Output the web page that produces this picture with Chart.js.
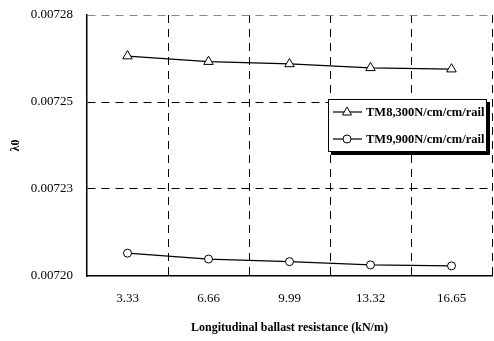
<!DOCTYPE html>
<html>
<head>
<meta charset="utf-8">
<script src="https://cdn.jsdelivr.net/npm/chart.js@4/dist/chart.umd.min.js"></script>
<style>
  html, body { margin: 0; padding: 0; background: #fff; }
  #wrap { width: 494px; height: 341px; position: relative; }
</style>
</head>
<body>
<div id="wrap"><canvas id="c" width="494" height="341"></canvas></div>
<script>
const categories = ['3.33', '6.66', '9.99', '13.32', '16.65'];
const seriesNames = ['TM8,300N/cm/cm/rail', 'TM9,900N/cm/cm/rail'];
const tm8300 = [0.0072674, 0.0072657, 0.0072650, 0.0072638, 0.0072634];
const tm9900 = [0.0072070, 0.0072052, 0.0072044, 0.0072034, 0.0072031];
const yTickValues = [0.0072, 0.0072 + 0.00008 / 3, 0.0072 + 0.00016 / 3, 0.00728];
const yTickLabels = ['0.00720', '0.00723', '0.00725', '0.00728'];
const xTitle = 'Longitudinal ballast resistance (kN/m)';
const yTitle = 'λ0';

const SERIF = '"Liberation Serif", "Times New Roman", serif';

const legendPlugin = {
  id: 'boxLegend',
  afterDraw(chart) {
    const ctx = chart.ctx;
    const ca = chart.chartArea;
    const w = 159, h = 53;
    const x = ca.right - 5 - w, y = ca.top + 84;
    ctx.save();
    ctx.fillStyle = '#000';
    ctx.fillRect(x + 3, y + 3, w, h);
    ctx.fillStyle = '#fff';
    ctx.fillRect(x, y, w, h);
    ctx.strokeStyle = '#000';
    ctx.lineWidth = 1;
    ctx.strokeRect(x + 0.5, y + 0.5, w - 1, h - 1);
    ctx.font = 'bold 12.5px ' + SERIF;
    ctx.textBaseline = 'middle';
    ctx.textAlign = 'left';
    chart.data.datasets.forEach((ds, i) => {
      const cy = y + 13 + i * 27;
      ctx.strokeStyle = '#000';
      ctx.lineWidth = 1.2;
      ctx.beginPath();
      ctx.moveTo(x + 5, cy);
      ctx.lineTo(x + 34, cy);
      ctx.stroke();
      const mx = x + 19;
      ctx.fillStyle = '#fff';
      ctx.lineWidth = 1;
      ctx.beginPath();
      if (ds.pointStyle === 'triangle') {
        ctx.moveTo(mx, cy - 5);
        ctx.lineTo(mx + 4.5, cy + 3);
        ctx.lineTo(mx - 4.5, cy + 3);
        ctx.closePath();
      } else {
        ctx.arc(mx, cy, 4, 0, Math.PI * 2);
      }
      ctx.fill();
      ctx.stroke();
      ctx.fillStyle = '#000';
      ctx.fillText(ds.label, x + 38, cy + 1);
    });
    ctx.restore();
  }
};

new Chart(document.getElementById('c'), {
  type: 'line',
  data: {
    labels: categories,
    datasets: [
      {
        label: seriesNames[0], data: tm8300,
        borderColor: '#000', borderWidth: 1.2,
        pointStyle: 'triangle', pointRadius: 5.5,
        pointBackgroundColor: '#fff', pointBorderColor: '#000', pointBorderWidth: 1,
        tension: 0
      },
      {
        label: seriesNames[1], data: tm9900,
        borderColor: '#000', borderWidth: 1.2,
        pointStyle: 'circle', pointRadius: 4,
        pointBackgroundColor: '#fff', pointBorderColor: '#000', pointBorderWidth: 1,
        tension: 0
      }
    ]
  },
  options: {
    responsive: false,
    animation: false,
    events: [],
    layout: { autoPadding: false, padding: { top: 15, right: 2, left: 0, bottom: 0 } },
    plugins: { legend: { display: false }, tooltip: { enabled: false } },
    scales: {
      x: {
        type: 'category',
        offset: true,
        grid: {
          offset: true,
          drawTicks: true,
          tickLength: 15,
          tickColor: 'rgba(0,0,0,0)',
          lineWidth: 1,
          color: (c) => c.index === 0 ? 'rgba(0,0,0,0)' : (c.index >= 5 ? '#888' : '#000')
        },
        border: { display: true, color: '#000', width: 1.5, dash: [8, 6] },
        ticks: { color: '#000', padding: 0, font: { family: SERIF, size: 13 } },
        title: {
          display: true, text: xTitle, color: '#000',
          font: { family: SERIF, size: 12, weight: 'bold' },
          padding: { top: 0, bottom: 6 }
        },
        afterFit(s) { s.height = 65; s.paddingLeft = 0; s.paddingRight = 0; }
      },
      y: {
        min: 0.0072, max: 0.00728,
        afterBuildTicks(s) { s.ticks = yTickValues.map(v => ({ value: v })); },
        grid: {
          drawTicks: true,
          tickLength: 14,
          tickColor: 'rgba(0,0,0,0)',
          lineWidth: 1,
          color: (c) => c.index === 0 ? 'rgba(0,0,0,0)' : (c.index === 3 ? '#888' : '#000')
        },
        border: { display: true, color: '#000', width: 1.5, dash: [8, 6] },
        ticks: {
          color: '#000', padding: 0, font: { family: SERIF, size: 13 },
          callback: (v, i) => yTickLabels[i]
        },
        title: {
          display: true, text: yTitle, color: '#000',
          font: { family: SERIF, size: 12, weight: 'bold' },
          padding: { top: 9, bottom: 0 }
        },
        afterFit(s) { s.width = 87; s.paddingTop = 0; s.paddingBottom = 0; }
      }
    }
  },
  plugins: [legendPlugin]
});
</script>
</body>
</html>
